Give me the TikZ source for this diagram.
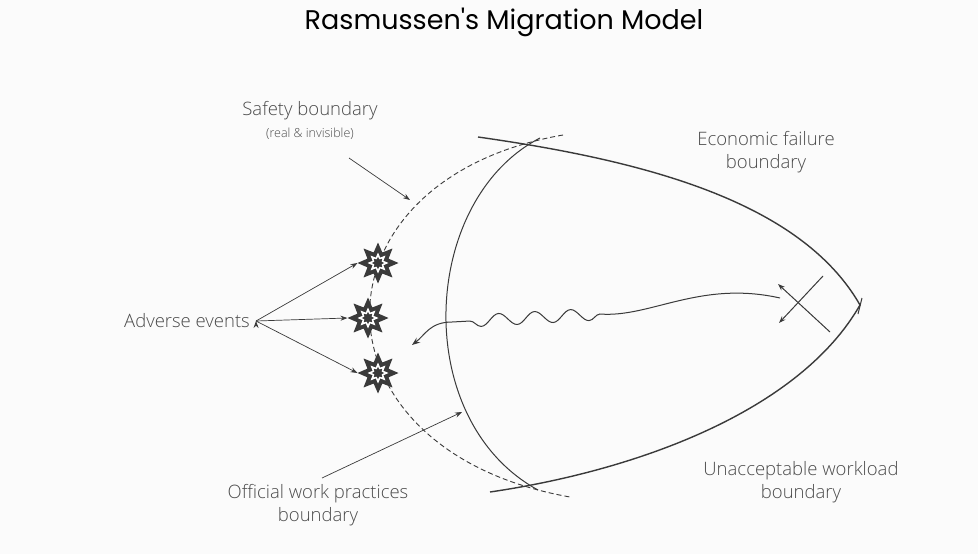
\documentclass[tikz,border=0pt]{standalone}
\usepackage{fontspec}
\setmainfont{Open Sans}[UprightFont={* Light}]
\newfontfamily\titlefont{Poppins}
\usetikzlibrary{shapes.geometric,arrows.meta,decorations.pathmorphing}
\definecolor{ink}{HTML}{3A3A3A}
\definecolor{txt}{HTML}{4A4A4A}
\begin{document}
\begin{tikzpicture}[x=1pt,y=-1pt,
  lbl/.style={text=txt,font=\fontsize{18.5}{22}\selectfont,align=center,inner sep=0pt},
  arr/.style={draw=ink,line width=0.7pt,-{Stealth[length=7pt,width=5pt]}},
  line/.style={draw=ink,line width=1pt}]
\fill[white!97!gray] (0,0) rectangle (978,554);
\node[inner sep=0pt,font=\titlefont\fontsize{27}{32}\selectfont] (title) at (504,22) {Rasmussen's Migration Model};
% boundaries
\draw[line,line width=1.4pt] (478,137) .. controls (640,160) and (800,200) .. (860,305)
  .. controls (800,410) and (640,470) .. (490,492);
\draw[line] (862,298) -- (858,314);
\draw[line] (540,138) .. controls (420,200) and (410,420) .. (538,490);
\draw[line,line width=0.9pt,dash pattern=on 5pt off 3pt] (563,135) .. controls (304,180) and (304,450) .. (570,497);
% wavy migration
\coordinate (w0) at (780,298);
\coordinate (w1) at (600,314);
\coordinate (w2) at (452,322);
\coordinate (wend) at (412,345);
\draw[line,-{Stealth[length=8pt,width=6pt]}] (w0) .. controls (700,280) and (650,318) .. (w1)
  decorate[decoration={snake,amplitude=6pt,segment length=36pt}] {-- (w2)}
  .. controls (430,322) and (425,335) .. (wend);
% X with arrows
\coordinate (xa) at (823,276);\coordinate (xb) at (779,323);
\coordinate (xc) at (830,332);\coordinate (xd) at (778,284);
\draw[arr,line width=1pt] (xa) -- (xb);
\draw[arr,line width=1pt] (xc) -- (xd);
% stars
\foreach \n/\p in {s1/{(378,263)},s2/{(368,318)},s3/{(378,373)}}{
  \node[star,star points=8,star point ratio=1.8,minimum size=38pt,fill=ink,draw=ink,line width=1.2pt,inner sep=0pt] (\n) at \p {};
  \node[star,star points=8,star point ratio=1.8,minimum size=21pt,fill=white,inner sep=0pt] at \p {};
  \node[star,star points=8,star point ratio=1.6,minimum size=12pt,fill=ink,inner sep=0pt] at \p {};
}
% labels
\node[lbl] (adv) at (187,321) {Adverse events};
\draw[arr] (adv.east) ++(6,0) coordinate (advE);
\draw[arr] (advE) -- (s1.west);
\draw[arr] (advE) -- (s2.west);
\draw[arr] (advE) -- (s3.west);
\node[lbl] (safe) at (310,111) {Safety boundary};
\node[lbl,font=\fontsize{12.5}{14}\selectfont] (safe2) at (310,134) {(real \& invisible)};
\coordinate (safeTip) at (410,200);
\draw[arr] (349,158) -- (safeTip);
\node[lbl] (off) at (318,505) {Official work practices\\[1pt]boundary};
\coordinate (offTip) at (462,412);
\draw[arr] (322,478) -- (offTip);
\node[lbl] (econ) at (766,152) {Economic failure\\[1pt]boundary};
\node[lbl] (work) at (801,482) {Unacceptable workload\\[1pt]boundary};
\end{tikzpicture}
\end{document}
